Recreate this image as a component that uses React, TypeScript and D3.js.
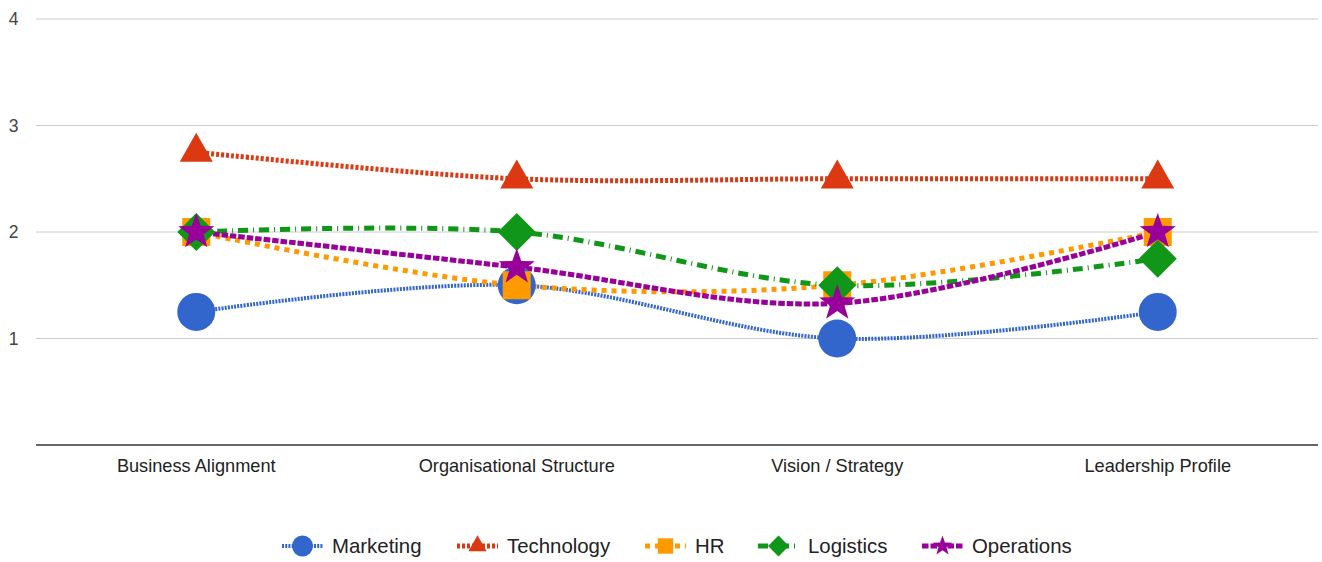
import React from "react";
import * as d3 from "d3";

const categories = ["Business Alignment", "Organisational Structure", "Vision / Strategy", "Leadership Profile"];
const seriesNames = ["Marketing", "Technology", "HR", "Logistics", "Operations"];
const marketing = [1.25, 1.5, 1.0, 1.25];
const technology = [2.75, 2.5, 2.5, 2.5];
const hr = [2.0, 1.5, 1.5, 2.0];
const logistics = [2.0, 2.0, 1.5, 1.75];
const operations = [2.0, 1.67, 1.33, 2.0];
const yTicks = [1, 2, 3, 4];

const W = 1322;
const H = 562;
const left = 36;
const right = 1318;
const top = 19;
const bottom = 445;

type Shape = "circle" | "triangle" | "square" | "diamond" | "star";

const styles: { color: string; width: number; dash: string; shape: Shape }[] = [
  { color: "#3366cc", width: 4, dash: "2 1.2", shape: "circle" },
  { color: "#dc3912", width: 5, dash: "3 2", shape: "triangle" },
  { color: "#ff9900", width: 5, dash: "5 5", shape: "square" },
  { color: "#109618", width: 5, dash: "10 5 1 5", shape: "diamond" },
  { color: "#990099", width: 5, dash: "6.5 2", shape: "star" },
];

function markerPath(shape: Shape, s: number): string {
  if (shape === "circle") {
    const r = 19 * s;
    return `M${-r},0A${r},${r} 0 1,0 ${r},0A${r},${r} 0 1,0 ${-r},0Z`;
  }
  if (shape === "triangle") {
    const side = 33 * s;
    const h = 29 * s;
    return `M0,${(-2 * h) / 3}L${side / 2},${h / 3}L${-side / 2},${h / 3}Z`;
  }
  if (shape === "square") {
    const a = 14 * s;
    return `M${-a},${-a}L${a},${-a}L${a},${a}L${-a},${a}Z`;
  }
  if (shape === "diamond") {
    const a = 19 * s;
    return `M0,${-a}L${a},0L0,${a}L${-a},0Z`;
  }
  const outer = 19 * s;
  const inner = 7.6 * s;
  let p = "";
  for (let i = 0; i < 10; i++) {
    const r = i % 2 === 0 ? outer : inner;
    const a = (Math.PI / 5) * i - Math.PI / 2;
    p += (i === 0 ? "M" : "L") + (r * Math.cos(a)).toFixed(2) + "," + (r * Math.sin(a)).toFixed(2);
  }
  return p + "Z";
}

export default function App() {
  const data = [marketing, technology, hr, logistics, operations];
  const x = d3.scaleBand<string>().domain(categories).range([left, right]);
  const cx = (c: string) => (x(c) as number) + x.bandwidth() / 2;
  const y = d3.scaleLinear().domain([0, 4]).range([bottom, top]);
  const line = d3
    .line<number>()
    .x((_, i) => cx(categories[i]))
    .y((v) => y(v))
    .curve(d3.curveCatmullRom.alpha(0.5));

  const font = "Arial, 'Liberation Sans', sans-serif";

  const legendFont = 20.4;
  const textWidths = [90, 103, 28, 79, 100];
  const iconW = 41;
  const iconGap = 9;
  const itemGap = 35;
  const totalW =
    textWidths.reduce((a, b) => a + b, 0) + seriesNames.length * (iconW + iconGap) + (seriesNames.length - 1) * itemGap;
  let lx = (left + right) / 2 - totalW / 2;
  const legendItems = seriesNames.map((name, i) => {
    const item = { name, x: lx, i };
    lx += iconW + iconGap + textWidths[i] + itemGap;
    return item;
  });
  const ly = 546;

  return (
    <svg
      width={W}
      height={H}
      style={{ position: "absolute", left: 0, top: 0, background: "#fff" }}
      fontFamily={font}
    >
      <rect x={0} y={0} width={W} height={H} fill="#fff" />
      {yTicks.map((t) => (
        <g key={t}>
          <line x1={left} x2={right} y1={y(t)} y2={y(t)} stroke="#cccccc" strokeWidth={1} />
          <text x={18.5} y={y(t)} dy="0.35em" textAnchor="end" fontSize={17.5} fill="#444">
            {t}
          </text>
        </g>
      ))}
      <line x1={left} x2={right} y1={y(0)} y2={y(0)} stroke="#333" strokeWidth={1.5} />
      {categories.map((c) => (
        <text key={c} x={cx(c)} y={466} dy="0.35em" textAnchor="middle" fontSize={18.2} fill="#222">
          {c}
        </text>
      ))}
      {data.map((vals, si) => (
        <path
          key={"l" + si}
          d={line(vals) || ""}
          fill="none"
          stroke={styles[si].color}
          strokeWidth={styles[si].width}
          strokeDasharray={styles[si].dash}
        />
      ))}
      {data.map((vals, si) =>
        vals.map((v, i) => (
          <path
            key={"m" + si + "-" + i}
            d={markerPath(styles[si].shape, 1)}
            transform={`translate(${cx(categories[i])},${y(v)})`}
            fill={styles[si].color}
          />
        ))
      )}
      {legendItems.map((it) => {
        const st = styles[it.i];
        return (
          <g key={it.name}>
            <line
              x1={it.x}
              x2={it.x + iconW}
              y1={ly}
              y2={ly}
              stroke={st.color}
              strokeWidth={st.width}
              strokeDasharray={st.dash}
            />
            <path d={markerPath(st.shape, 0.55)} transform={`translate(${it.x + iconW / 2},${ly})`} fill={st.color} />
            <text x={it.x + iconW + iconGap} y={ly} dy="0.35em" fontSize={legendFont} fill="#222">
              {it.name}
            </text>
          </g>
        );
      })}
    </svg>
  );
}
